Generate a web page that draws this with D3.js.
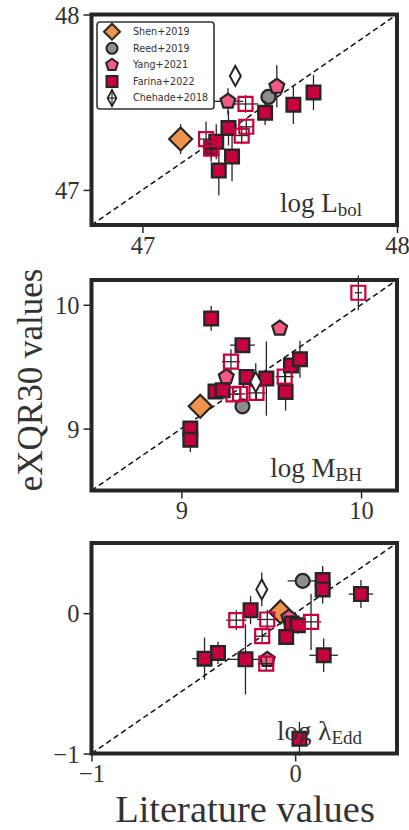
<!DOCTYPE html>
<html><head><meta charset="utf-8">
<script src="https://cdn.jsdelivr.net/npm/d3@7"></script>
<style>
html,body{margin:0;padding:0;background:#fff;}
svg{display:block;}
</style></head>
<body>
<svg id="c" width="409" height="830"></svg>
<script>
// ---------- data ----------
const panelNames = ["log L_bol", "log M_BH", "log λ_Edd"];
const panelDomains = [[46.8, 48], [8.5, 10.2], [-1, 0.5]];
const panelTicks = [[47, 48], [9, 10], [-1, 0]];
const seriesNames = ["Shen+2019", "Reed+2019", "Yang+2021", "Farina+2022", "Chehade+2018"];

// each entry: [literature x, eXQR30 y, xerr, yerr]
const shen = [
  [[47.15, 47.29, 0, 0.085]],
  [[9.105, 9.18, 0, 0.03]],
  [[-0.072, 0.009, 0, 0.03]]
];
const reed = [
  [[47.495, 47.53, 0.02, 0.03]],
  [[9.34, 9.18, 0.02, 0.03]],
  [[0.037, 0.23, 0.074, 0.03]]
];
const yang = [
  [[47.336, 47.505, 0.06, 0.075], [47.528, 47.59, 0.02, 0.12]],
  [[9.25, 9.417, 0.02, 0.04], [9.547, 9.81, 0.02, 0.03]],
  [[-0.031, -0.031, 0.02, 0.05], [-0.137, -0.331, 0.03, 0.05]]
];
const farinaFilled = [
  [[47.30, 47.11, 0.02, 0.14], [47.352, 47.19, 0.02, 0.14], [47.27, 47.24, 0.02, 0.08],
   [47.29, 47.275, 0.02, 0.1], [47.338, 47.353, 0.02, 0.1], [47.482, 47.44, 0.02, 0.07],
   [47.593, 47.486, 0.02, 0.11], [47.672, 47.556, 0.02, 0.1]],
  [[9.166, 9.89, 0.02, 0.1], [9.34, 9.674, 0.07, 0.05], [9.61, 9.51, 0.03, 0.06],
   [9.66, 9.56, 0.03, 0.15], [9.363, 9.417, 0.03, 0.06], [9.473, 9.404, 0.03, 0.3],
   [9.19, 9.30, 0.02, 0.05], [9.23, 9.31, 0.02, 0.05], [9.58, 9.296, 0.02, 0.15],
   [9.05, 9.0, 0.02, 0.06], [9.05, 8.91, 0.02, 0.1]],
  [[0.135, 0.236, 0.02, 0.1], [0.135, 0.169, 0.02, 0.1], [0.323, 0.136, 0.06, 0.1],
   [-0.219, 0.021, 0.02, 0.1], [-0.017, -0.074, 0.03, 0.06], [0.013, -0.086, 0.03, 0.06],
   [-0.044, -0.169, 0.02, 0.06], [-0.379, -0.283, 0.04, 0.08], [-0.445, -0.324, 0.06, 0.15],
   [-0.244, -0.329, 0.08, 0.25], [0.14, -0.3, 0.07, 0.12], [0.021, -0.895, 0.02, 0.12]]
];
const farinaOpen = [
  [[47.405, 47.49, 0.05, 0.05], [47.408, 47.36, 0.03, 0.05], [47.39, 47.31, 0.03, 0.05],
   [47.25, 47.29, 0.03, 0.1], [47.27, 47.235, 0.03, 0.05]],
  [[9.985, 10.097, 0.02, 0.14], [9.276, 9.54, 0.05, 0.1], [9.575, 9.42, 0.05, 0.05],
   [9.29, 9.277, 0.03, 0.05], [9.326, 9.28, 0.03, 0.05], [9.418, 9.288, 0.05, 0.05]],
  [[-0.289, -0.05, 0.05, 0.07], [-0.137, -0.045, 0.05, 0.07], [0.078, -0.062, 0.05, 0.2],
   [-0.162, -0.164, 0.04, 0.05], [-0.142, -0.36, 0.04, 0.05]]
];
const chehade = [
  [[47.365, 47.65, 0.01, 0.03]],
  [[9.414, 9.377, 0.02, 0.15]],
  [[-0.164, 0.169, 0.02, 0.12]]
];

// ---------- layout ----------
const svg = d3.select("#c");
const DARK = "#262626";
const CRIMSON = "#c8003d";
const PINK = "#f45a83";
const ORANGE = "#f0944d";
const GRAY = "#8e8e8e";
const left = 91.5, right = 397;
const panelTops = [14.5, 280, 543];
const panelH = 210.5;

function symPath(type, size) {
  if (type === "diamond") return `M0,${-size}L${size},0L0,${size}L${-size},0Z`;
  if (type === "thin") return `M0,${-size}L${size * 0.55},0L0,${size}L${-size * 0.55},0Z`;
  if (type === "square") return `M${-size},${-size}H${size}V${size}H${-size}Z`;
  if (type === "pent") {
    const pts = d3.range(5).map(i => {
      const a = -Math.PI / 2 + i * 2 * Math.PI / 5;
      return [size * Math.cos(a), size * Math.sin(a)];
    });
    return "M" + pts.map(p => p.join(",")).join("L") + "Z";
  }
  return "";
}

function drawSeries(g, x, y, data, style) {
  const grp = g.append("g");
  data.forEach(d => {
    const cx = x(d[0]), cy = y(d[1]);
    if (d[2] > 0) grp.append("line").attr("x1", x(d[0] - d[2])).attr("x2", x(d[0] + d[2]))
      .attr("y1", cy).attr("y2", cy).attr("stroke", DARK).attr("stroke-width", 1.3);
    if (d[3] > 0) grp.append("line").attr("x1", cx).attr("x2", cx)
      .attr("y1", y(d[1] - d[3])).attr("y2", y(d[1] + d[3])).attr("stroke", DARK).attr("stroke-width", 1.3);
  });
  data.forEach(d => {
    const cx = x(d[0]), cy = y(d[1]);
    if (style.type === "circle") {
      grp.append("circle").attr("cx", cx).attr("cy", cy).attr("r", style.size)
        .attr("fill", style.fill).attr("stroke", style.stroke).attr("stroke-width", style.sw);
    } else {
      grp.append("path").attr("d", symPath(style.type, style.size))
        .attr("transform", `translate(${cx},${cy})`)
        .attr("fill", style.fill).attr("stroke", style.stroke).attr("stroke-width", style.sw);
    }
  });
}

const styles = {
  shen: {type: "diamond", size: 11.5, fill: ORANGE, stroke: DARK, sw: 2.2},
  reed: {type: "circle", size: 7, fill: GRAY, stroke: DARK, sw: 2.2},
  yang: {type: "pent", size: 7.8, fill: PINK, stroke: DARK, sw: 2.2},
  farF: {type: "square", size: 6.8, fill: CRIMSON, stroke: DARK, sw: 2.4},
  farO: {type: "square", size: 7, fill: "none", stroke: CRIMSON, sw: 2.2},
  cheh: {type: "thin", size: 10, fill: "#fff", stroke: DARK, sw: 2}
};

const SERIF = "Liberation Serif, serif";

panelDomains.forEach((dom, i) => {
  const top = panelTops[i];
  const x = d3.scaleLinear().domain(dom).range([left, right]);
  const y = d3.scaleLinear().domain(dom).range([top + panelH, top]);
  const g = svg.append("g");

  // 1:1 line
  g.append("line").attr("x1", x(dom[0])).attr("y1", y(dom[0])).attr("x2", x(dom[1])).attr("y2", y(dom[1]))
    .attr("stroke", "#111").attr("stroke-width", 1.5).attr("stroke-dasharray", "5.5,3.5");

  drawSeries(g, x, y, shen[i], styles.shen);
  drawSeries(g, x, y, reed[i], styles.reed);
  drawSeries(g, x, y, yang[i], styles.yang);
  drawSeries(g, x, y, farinaFilled[i], styles.farF);
  drawSeries(g, x, y, farinaOpen[i], styles.farO);
  drawSeries(g, x, y, chehade[i], styles.cheh);

  // axes
  const fmt = d => d < 0 ? "\u2212" + Math.abs(d) : String(d);
  const xa = g.append("g").attr("transform", `translate(0,${top + panelH})`)
    .call(d3.axisBottom(x).tickValues(panelTicks[i]).tickSize(8).tickSizeOuter(0).tickFormat(fmt).tickPadding(3));
  const ya = g.append("g").attr("transform", `translate(${left},0)`)
    .call(d3.axisLeft(y).tickValues(panelTicks[i]).tickSize(8).tickSizeOuter(0).tickFormat(fmt).tickPadding(4));
  [xa, ya].forEach(a => {
    a.select(".domain").remove();
    a.selectAll("line").attr("stroke", DARK).attr("stroke-width", 1.5);
    a.selectAll("text").attr("font-family", SERIF).attr("font-size", 24.5).attr("fill", "#333");
  });
  ya.selectAll("text").attr("dy", "0.35em");
  xa.selectAll("text").attr("dy", "0.72em");

  // frame
  g.append("rect").attr("x", left).attr("y", top).attr("width", right - left).attr("height", panelH)
    .attr("fill", "none").attr("stroke", DARK).attr("stroke-width", 4);

  // panel label
  const parts = panelNames[i].split("_");
  const t = g.append("text").attr("x", 362).attr("y", top + 197)
    .attr("text-anchor", "end").attr("font-family", SERIF).attr("font-size", 27).attr("fill", "#333");
  t.append("tspan").text(parts[0]);
  t.append("tspan").text(parts[1]).attr("font-size", 19).attr("dy", 4);
});

// legend
const lg = svg.append("g");
lg.append("rect").attr("x", 97).attr("y", 22).attr("width", 117).attr("height", 87).attr("rx", 3)
  .attr("fill", "#fff").attr("fill-opacity", 0.85).attr("stroke", "#333").attr("stroke-width", 1.6);
const legStyles = [
  {type: "diamond", size: 8, fill: ORANGE, stroke: DARK, sw: 2},
  {type: "circle", size: 5.5, fill: GRAY, stroke: DARK, sw: 2},
  {type: "pent", size: 6.2, fill: PINK, stroke: DARK, sw: 2},
  {type: "square", size: 5.5, fill: CRIMSON, stroke: DARK, sw: 2},
  {type: "thin", size: 8, fill: "#fff", stroke: DARK, sw: 1.8}
];
seriesNames.forEach((name, k) => {
  const cy = 31.7 + k * 16.6;
  const st = legStyles[k];
  if (k === 4) {
    lg.append("line").attr("x1", 107).attr("x2", 117).attr("y1", cy).attr("y2", cy).attr("stroke", DARK).attr("stroke-width", 1.2);
    lg.append("line").attr("x1", 112).attr("x2", 112).attr("y1", cy - 9).attr("y2", cy + 9).attr("stroke", DARK).attr("stroke-width", 1.2);
  }
  if (st.type === "circle") {
    lg.append("circle").attr("cx", 112).attr("cy", cy).attr("r", st.size).attr("fill", st.fill).attr("stroke", st.stroke).attr("stroke-width", st.sw);
  } else {
    lg.append("path").attr("d", symPath(st.type, st.size)).attr("transform", `translate(112,${cy})`)
      .attr("fill", k === 4 ? "none" : st.fill).attr("stroke", st.stroke).attr("stroke-width", st.sw);
  }
  lg.append("text").attr("x", 133).attr("y", cy).attr("dy", "0.35em").text(name)
    .attr("font-family", "DejaVu Sans, sans-serif").attr("font-size", 9.6).attr("fill", "#333");
});

// axis titles
svg.append("text").attr("transform", "translate(42,380) rotate(-90)").attr("text-anchor", "middle")
  .attr("font-family", SERIF).attr("font-size", 35).attr("fill", "#333").text("eXQR30 values");
svg.append("text").attr("x", 245).attr("y", 822).attr("text-anchor", "middle")
  .attr("font-family", SERIF).attr("font-size", 38.5).attr("fill", "#333").text("Literature values");
</script>
</body></html>
